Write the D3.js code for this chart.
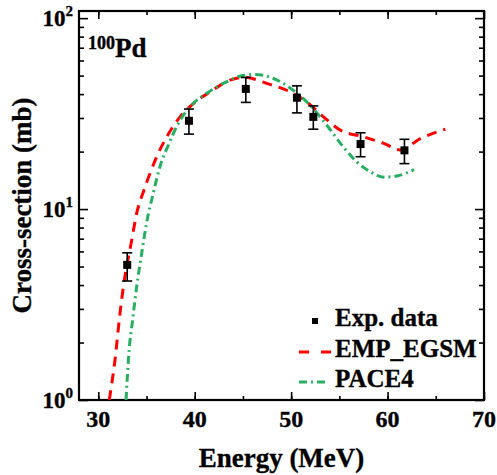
<!DOCTYPE html>
<html>
<head>
<meta charset="utf-8">
<script src="https://d3js.org/d3.v7.min.js"></script>
<style>
  body { margin: 0; background: #fff; }
  svg { display: block; font-family: "Liberation Serif", "Times New Roman", serif; font-weight: bold; }
  svg text { stroke: #000; stroke-width: 0.35px; }
</style>
</head>
<body>
<div id="chart"></div>
<script>
// ---- data ----
const expEnergy = [33.0, 39.4, 45.3, 50.6, 52.3, 57.2, 61.75];
const expValue  = [5.1, 29.0, 42.6, 38.3, 30.4, 21.9, 20.3];
const expLow    = [4.2, 24.7, 36.2, 31.9, 26.2, 18.8, 17.3];
const expHigh   = [5.9, 33.4, 48.9, 44.2, 34.7, 25.1, 23.2];

const egsmEnergy = [31.14, 31.73, 32.25, 32.6, 33.47, 33.98, 34.67, 35.37, 36.06, 37.1, 38.48, 39.86, 41.6, 43.66, 45.2, 47.47, 49.9, 51.6, 53.35, 55.1, 57.5, 59.6, 61.3, 63.4, 66.0];
const egsmValue  = [1.0, 1.62, 2.84, 3.92, 6.88, 9.49, 12.3, 15.4, 18.8, 23.9, 30.4, 35.7, 41.1, 47.4, 49.0, 45.5, 41.1, 36.5, 30.4, 25.9, 23.9, 22.1, 20.4, 23.4, 26.2];

const paceEnergy = [32.88, 33.2, 33.56, 33.98, 34.5, 35.0, 35.7, 36.4, 37.26, 38.3, 39.5, 41.25, 43.3, 45.0, 46.26, 48.16, 50.2, 51.96, 53.7, 55.4, 56.8, 58.2, 59.6, 60.96, 62.75];
const paceValue  = [1.0, 1.83, 2.62, 3.92, 5.86, 8.42, 12.1, 16.7, 21.6, 28.1, 34.3, 40.4, 46.4, 50.1, 50.7, 48.3, 42.0, 35.0, 27.5, 21.2, 17.7, 15.7, 14.7, 14.9, 16.1];

const xTickLabels = [30, 40, 50, 60, 70];
const xMinorTicks = [30, 35, 40, 45, 50, 55, 60, 65];
const yTickLabels = [1, 10, 100];
const yTickExponents = ["0", "1", "2"];
const legendLabels = ["Exp. data", "EMP_EGSM", "PACE4"];

// ---- layout ----
const W = 497, H = 475;
const m = { left: 79, top: 11, right: 484, bottom: 400 };
const red = "#ff0000", green = "#27ae60";

const svg = d3.select("#chart").append("svg").attr("width", W).attr("height", H);

const x = d3.scaleLinear().domain([28, 70]).range([m.left, m.right]);
const y = d3.scaleLog().domain([1, 109]).range([m.bottom, m.top]);

svg.append("clipPath").attr("id", "clip").append("rect")
  .attr("x", m.left).attr("y", m.top).attr("width", m.right - m.left).attr("height", m.bottom - m.top);

const yMinor = [];
for (let d = 1; d <= 10; d *= 10) for (let k = 2; k <= 9; k++) if (d * k < 109) yMinor.push(d * k);

const axG = svg.append("g");
function ax(axisFn, scale, vals, size, tx, ty) {
  axG.append("g").attr("transform", `translate(${tx},${ty})`)
    .call(axisFn(scale).tickValues(vals).tickSize(size).tickFormat(""))
    .call(g => g.select(".domain").remove());
}
ax(d3.axisTop, x, xMinorTicks, 4, 0, m.bottom);
ax(d3.axisTop, x, xTickLabels, 8, 0, m.bottom);
ax(d3.axisBottom, x, xMinorTicks, 4, 0, m.top);
ax(d3.axisBottom, x, xTickLabels, 8, 0, m.top);
ax(d3.axisRight, y, yMinor, 5, m.left, 0);
ax(d3.axisRight, y, yTickLabels, 9, m.left, 0);
ax(d3.axisLeft, y, yMinor, 5, m.right, 0);
ax(d3.axisLeft, y, yTickLabels, 9, m.right, 0);
axG.selectAll(".tick line").attr("stroke", "#000").attr("stroke-width", 1.6);

svg.append("rect").attr("x", m.left).attr("y", m.top)
  .attr("width", m.right - m.left).attr("height", m.bottom - m.top)
  .attr("fill", "none").attr("stroke", "#000").attr("stroke-width", 2.2);

// x tick labels
svg.append("g").selectAll("text").data(xTickLabels).join("text")
  .attr("x", d => x(d)).attr("y", 427)
  .attr("text-anchor", "middle").attr("font-size", 24).text(d => d);

// y tick labels (10^n)
const yl = svg.append("g").selectAll("text").data(yTickLabels).join("text")
  .attr("x", 73).attr("y", d => y(d) + 8)
  .attr("text-anchor", "end").attr("font-size", 23);
yl.append("tspan").text("10");
yl.append("tspan").attr("dy", -10).attr("font-size", 15).text((d, i) => yTickExponents[i]);

// axis titles
svg.append("text").attr("x", (m.left + m.right) / 2).attr("y", 467)
  .attr("text-anchor", "middle").attr("font-size", 27).text("Energy (MeV)");
svg.append("text").attr("transform", `translate(31,${(m.top + m.bottom) / 2}) rotate(-90)`)
  .attr("text-anchor", "middle").attr("font-size", 27).text("Cross-section (mb)");

// nucleus label
const nl = svg.append("text").attr("x", 88).attr("y", 57).attr("font-size", 27);
nl.append("tspan").attr("font-size", 18).attr("dy", -8).text("100");
nl.append("tspan").attr("dy", 8).text("Pd");

// curves
const line = d3.line().x(d => x(d[0])).y(d => y(d[1])).curve(d3.curveMonotoneX);
const plot = svg.append("g").attr("clip-path", "url(#clip)");
plot.append("path").datum(egsmEnergy.map((e, i) => [e, egsmValue[i]]))
  .attr("d", line).attr("fill", "none").attr("stroke", red)
  .attr("stroke-width", 3).attr("stroke-dasharray", "10,7");
plot.append("path").datum(paceEnergy.map((e, i) => [e, paceValue[i]]))
  .attr("d", line).attr("fill", "none").attr("stroke", green)
  .attr("stroke-width", 3).attr("stroke-dasharray", "8,4,2,4");

// exp data with error bars
const exp = expEnergy.map((e, i) => ({ e, v: expValue[i], lo: expLow[i], hi: expHigh[i] }));
const eg = plot.append("g").selectAll("g").data(exp).join("g");
eg.append("line").attr("x1", d => x(d.e)).attr("x2", d => x(d.e))
  .attr("y1", d => y(d.lo)).attr("y2", d => y(d.hi)).attr("stroke", "#000").attr("stroke-width", 1.6);
eg.append("line").attr("x1", d => x(d.e) - 5).attr("x2", d => x(d.e) + 5)
  .attr("y1", d => y(d.lo)).attr("y2", d => y(d.lo)).attr("stroke", "#000").attr("stroke-width", 1.6);
eg.append("line").attr("x1", d => x(d.e) - 5).attr("x2", d => x(d.e) + 5)
  .attr("y1", d => y(d.hi)).attr("y2", d => y(d.hi)).attr("stroke", "#000").attr("stroke-width", 1.6);
eg.append("rect").attr("x", d => x(d.e) - 4).attr("y", d => y(d.v) - 4)
  .attr("width", 8).attr("height", 8).attr("fill", "#000");

// legend
const lg = svg.append("g");
lg.append("rect").attr("x", 312).attr("y", 318).attr("width", 6).attr("height", 6).attr("fill", "#000");
lg.append("line").attr("x1", 299).attr("x2", 331).attr("y1", 352).attr("y2", 352)
  .attr("stroke", red).attr("stroke-width", 3).attr("stroke-dasharray", "10,12");
lg.append("line").attr("x1", 299).attr("x2", 329).attr("y1", 382).attr("y2", 382)
  .attr("stroke", green).attr("stroke-width", 3).attr("stroke-dasharray", "8,4,2,4");
lg.selectAll("text").data(legendLabels).join("text")
  .attr("x", 335).attr("y", (d, i) => 326 + i * 30.5)
  .attr("font-size", 25).text(d => d);
</script>
</body>
</html>
